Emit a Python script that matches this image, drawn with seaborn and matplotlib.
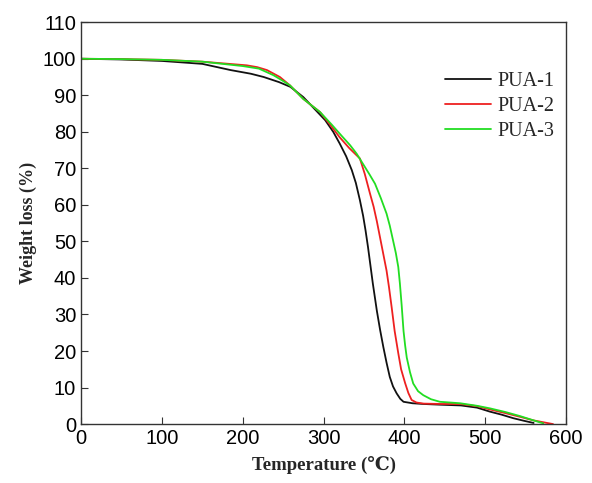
import numpy as np
import pandas as pd
import matplotlib
matplotlib.use("Agg")
import matplotlib.pyplot as plt
import seaborn as sns

# TGA curves
temp_pua1 = [0, 50, 100, 150, 185, 210, 226, 245, 259, 275, 290, 302, 312, 320, 328, 335,
             340, 345, 349, 352, 355, 358, 361, 366, 370, 374, 378, 382, 386, 390.5, 395, 399,
             410, 424, 445, 470, 490, 506, 520, 535, 548, 560]
wl_pua1 = [100, 99.8, 99.4, 98.6, 96.9, 95.9, 95.0, 93.6, 92.3, 89.5, 86.0, 83.2, 80.0, 76.8,
           73.3, 69.5, 66.0, 61.3, 57.0, 53.0, 48.5, 43.5, 38.5, 31.0, 25.8, 21.1, 16.8, 12.9,
           10.3, 8.4, 6.9, 6.1, 5.7, 5.5, 5.3, 5.1, 4.5, 3.4, 2.6, 1.6, 0.9, 0.3]

temp_pua2 = [0, 50, 100, 150, 205, 218, 230, 246, 258.5, 275, 295.7, 308, 320, 332, 345, 351,
             357.5, 362, 366, 370, 374, 378, 381, 384.3, 388, 392.5, 396, 401, 405, 409, 415,
             424, 445, 469, 490, 506, 525, 543, 560, 572, 584]
wl_pua2 = [100, 99.9, 99.7, 99.2, 98.2, 97.7, 96.9, 95.0, 92.7, 89.0, 85.4, 82.0, 78.5, 75.5,
           72.7, 68.5, 63.1, 59.5, 55.5, 51.0, 46.5, 42.0, 37.5, 32.0, 25.5, 19.4, 15.0, 11.2,
           8.5, 6.6, 5.9, 5.6, 5.5, 5.5, 4.9, 4.0, 3.0, 2.0, 1.0, 0.5, 0.0]

temp_pua3 = [0, 50, 100, 150, 200, 220, 238, 250, 258.5, 275, 295.7, 310, 322, 333, 341, 350,
             357, 363.7, 371, 378, 382, 386, 389.5, 392.5, 394.5, 396.7, 399, 401, 403, 407,
             411, 417, 423.5, 433, 444, 469, 490, 506, 525, 543, 560, 572]
wl_pua3 = [100, 99.9, 99.7, 99.2, 98.0, 97.3, 95.5, 93.9, 92.7, 89.0, 85.4, 82.0, 79.0, 76.3,
           74.0, 70.8, 68.3, 65.8, 61.8, 57.6, 54.3, 50.3, 46.8, 43.0, 38.5, 32.5, 25.5, 21.5,
           18.2, 14.2, 11.1, 9.0, 7.9, 6.8, 6.1, 5.7, 5.0, 4.3, 3.3, 2.2, 1.0, 0.2]

samples = ["PUA-1", "PUA-2", "PUA-3"]
colors = {"PUA-1": "#111111", "PUA-2": "#EE2020", "PUA-3": "#22DD22"}

df = pd.concat([
    pd.DataFrame({"temp": temp_pua1, "wl": wl_pua1, "sample": "PUA-1"}),
    pd.DataFrame({"temp": temp_pua2, "wl": wl_pua2, "sample": "PUA-2"}),
    pd.DataFrame({"temp": temp_pua3, "wl": wl_pua3, "sample": "PUA-3"}),
])

sns.set_style("ticks")
plt.rcParams.update({
    "font.family": ["Liberation Sans", "DejaVu Sans"],
    "xtick.direction": "in",
    "ytick.direction": "in",
    "xtick.major.size": 5,
    "ytick.major.size": 5,
    "axes.linewidth": 1.0,
    "axes.edgecolor": "#333333",
})

fig = plt.figure(figsize=(5.92, 4.83), dpi=100)
ax = fig.add_axes([0.137, 0.122, 0.819, 0.832])

sns.lineplot(data=df, x="temp", y="wl", hue="sample", hue_order=samples,
             palette=colors, estimator=None, linewidth=1.3, ax=ax)

ax.set_xlim(0, 600)
ax.set_ylim(0, 110)
ax.set_xticks(np.arange(0, 601, 100))
ax.set_yticks(np.arange(0, 111, 10))
ax.tick_params(labelsize=14.5, colors="#333333", labelcolor="black", top=False, right=False)

serif = ["Liberation Serif", "DejaVu Serif"]
ax.set_xlabel("Temperature (\u2103)", fontsize=13.5, fontweight="bold", family=serif, labelpad=6)
ax.set_ylabel("Weight loss (%)", fontsize=13, fontweight="bold", family=serif, labelpad=4)

leg = ax.legend(loc="upper left", bbox_to_anchor=(0.7505, 0.876), frameon=False,
                borderpad=0, borderaxespad=0,
                handlelength=2.3, handletextpad=0.3, labelspacing=0.3,
                prop={"family": serif, "size": 14.5})
for line in leg.get_lines():
    line.set_linewidth(1.3)

fig.savefig("out.png", dpi=100)
